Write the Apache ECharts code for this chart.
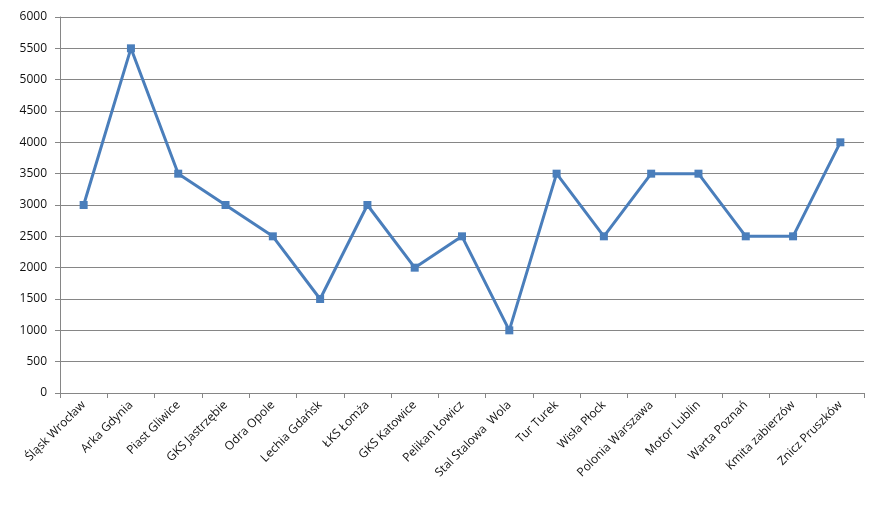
<!DOCTYPE html>
<html><head><meta charset="utf-8">
<script src="https://cdn.jsdelivr.net/npm/echarts@6/dist/echarts.min.js"></script>
<style>html,body{margin:0;padding:0;background:#fff}#c{width:881px;height:512px}</style>
</head><body><div id="c"></div>
<script>
const categories = ["Śląsk Wrocław","Arka Gdynia","Piast Gliwice","GKS Jastrzębie","Odra Opole","Lechia Gdańsk","ŁKS Łomża","GKS Katowice","Pelikan Łowicz","Stal Stalowa  Wola","Tur Turek","Wisła Płock","Polonia Warszawa","Motor Lublin","Warta Poznań","Kmita zabierzów","Znicz Pruszków"];
const values = [3000,5500,3500,3000,2500,1500,3000,2000,2500,1000,3500,2500,3500,3500,2500,2500,4000];
const chart = echarts.init(document.getElementById('c'), null, {renderer:'canvas'});
chart.setOption({
  animation:false,
  grid:{left:60,right:17,top:17,bottom:119},
  xAxis:{type:'category',data:categories,boundaryGap:true,
    axisLine:{lineStyle:{color:'#868686',width:1}},
    axisTick:{show:true,length:5,lineStyle:{color:'#868686'}},
    axisLabel:{rotate:45,interval:0,color:'#111',fontFamily:'Open Sans',fontSize:12,margin:10}},
  yAxis:{type:'value',min:0,max:6000,interval:500,
    axisLine:{show:true,lineStyle:{color:'#868686',width:1}},
    axisTick:{show:true,length:5,lineStyle:{color:'#868686'}},
    splitLine:{lineStyle:{color:'#868686',width:1}},
    axisLabel:{color:'#111',fontFamily:'Open Sans',fontSize:12,margin:13,formatter:function(v){return String(v);}}},
  series:[{type:'line',data:values,symbol:'rect',symbolSize:8,
    lineStyle:{color:'#4A7EBB',width:3},itemStyle:{color:'#4A7EBB'}}]
});
</script></body></html>
